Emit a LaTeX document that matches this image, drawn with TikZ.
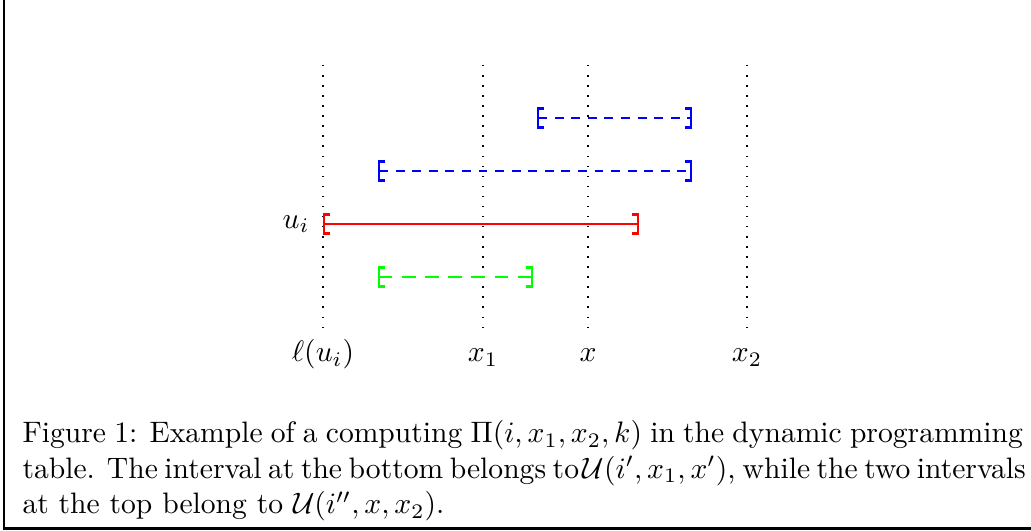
\documentclass[tikz,border=0pt]{standalone}
\usepackage{amsmath}
\usepackage{tikz}
\usetikzlibrary{arrows, positioning}
\definecolor{myblue}{RGB}{0,0,255}
\definecolor{myred}{RGB}{255,0,0}
\definecolor{mygreen}{RGB}{0,255,0}
\tikzset{
  guide/.style={dash pattern=on 0.5pt off 2.9pt, line width=0.5pt},
  interval/.style={[-], thick},
  topgap/.style={[-], thick, dash pattern=on 3pt off 2.6pt},
  lowgap/.style={[-], thick, dash pattern=on 4.5pt off 3.3pt},
  frameline/.style={line width=0.9pt, color=black}
}
\newcommand{\capline}[1]{\makebox[11.88cm][s]{#1}}

\begin{document}
\begin{tikzpicture}[every node/.style={font=\normalsize}]
  \useasboundingbox (0,0) rectangle (12.245,6.306);

  % Frame
  \draw[frameline] (0.048,6.306) -- (0.048,0.03) -- (12.245,0.03);

  % Guides
  \coordinate (lu) at (3.836,0);
  \coordinate (xa) at (5.736,0);
  \coordinate (xm) at (6.983,0);
  \coordinate (xb) at (8.872,0);
  \foreach \c in {lu, xa, xm, xb}
    \draw[guide] (\c |- 0,5.534) -- (\c |- 0,2.411);
  \node[anchor=base] (llu) at (lu |- 0,2.007) {$\ell(u_i)$};
  \node[anchor=base] (lxa) at (xa |- 0,2.007) {$x_1$};
  \node[anchor=base] (lxm) at (xm |- 0,2.007) {$x$};
  \node[anchor=base] (lxb) at (xb |- 0,2.007) {$x_2$};

  % Intervals
  \draw[topgap, myblue] (6.378,4.905) -- (8.219,4.905);
  \draw[topgap, myblue] (4.489,4.276) -- (8.219,4.276);
  \draw[interval, myred] (3.836,3.646) node[left=0.03cm, black] (ui) {$u_i$} -- (7.589,3.646);
  \draw[lowgap, mygreen] (4.489,3.017) -- (6.331,3.017);

  % Caption
  \node[anchor=north west, align=left, inner sep=0pt] (cap) at (0.261,1.318)
    {\capline{Figure 1: Example of a computing $\Pi(i,x_1,x_2,k)$ in the dynamic programming}\\
     \capline{table. The interval at the bottom belongs to\kern0.12em$\mathcal{U}(i',x_1,x')$, while the two intervals}\\
     at the top belong to $\mathcal{U}(i'',x,x_2)$.};
\end{tikzpicture}
\end{document}
